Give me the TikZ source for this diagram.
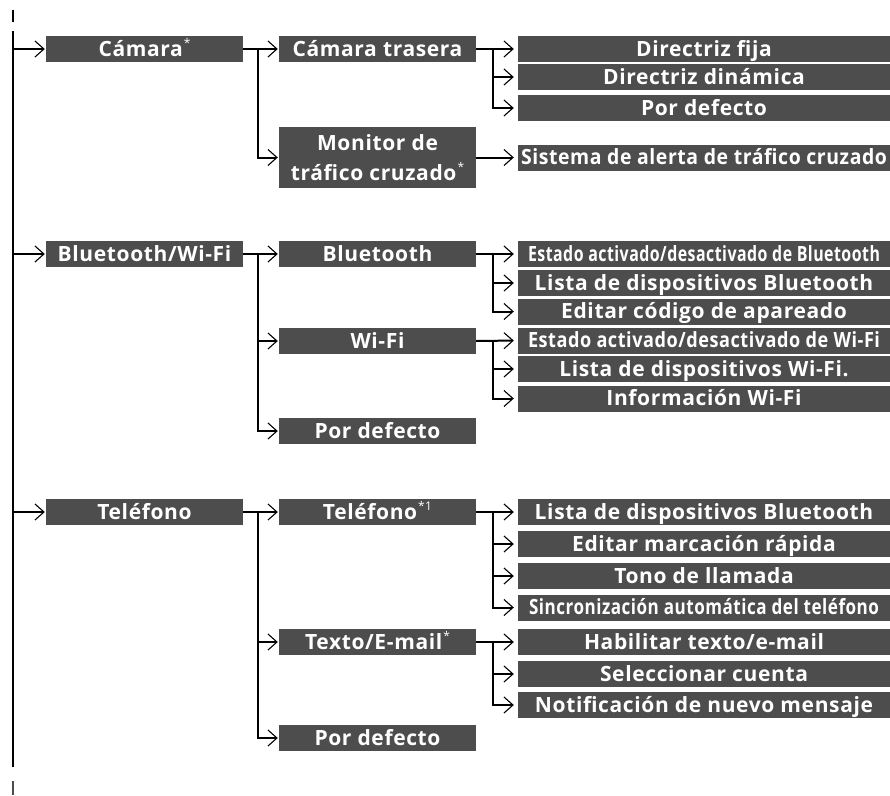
\documentclass[tikz,border=0pt]{standalone}
\usepackage{fontspec}
\setmainfont{Open Sans}[LetterSpace=3]
\usepackage{graphicx}
\usetikzlibrary{arrows.meta}
\definecolor{boxgray}{RGB}{77,77,77}
\newsavebox\fbx
\newcommand\fitw[2]{\sbox\fbx{#2}\ifdim\wd\fbx>#1\relax\resizebox{#1}{\ht\fbx}{\usebox\fbx}\else\usebox\fbx\fi}
\newcommand\supmark[1]{\kern1pt\raisebox{0.4em}{\fontsize{12}{12}\selectfont\mdseries #1}}
\newcommand\st{\supmark{*}}
\begin{document}
\begin{tikzpicture}[x=1pt,y=-1pt,
 box/.style={fill=boxgray, text=white, inner sep=0pt, font=\fontsize{21}{30}\selectfont\bfseries, minimum height=26pt},
 one/.style={text height=14.5pt, text depth=0pt},
 l1/.style={box, one, minimum width=197pt},
 l2/.style={box, minimum width=197pt, align=center},
 l3/.style={box, one, minimum width=372pt},
 ln/.style={line width=2pt},
 arr/.style={ln, -{Straight Barb[length=9pt,width=16pt,line width=1.1pt]}, shorten >=1pt},
 arr3/.style={arr, shorten >=4pt},
]
\useasboundingbox (0,0) rectangle (890,795);
% main line
\coordinate (mtop) at (12.5,31);
\coordinate (mbot) at (12.5,767);
\coordinate (tk1) at (12.5,10);
\coordinate (tk2) at (12.5,22);
\coordinate (tk3) at (12.5,781);
\coordinate (tk4) at (12.5,795);
\coordinate (b2) at (258,0);
\coordinate (b3) at (493,0);
\draw[ln] (mtop) -- (mbot);
\draw[ln] (tk1) -- (tk2);
\draw[ln, black!70] (tk3) -- (tk4);

% level 1
\node[l1] (cam) at (144.5,49) {Cámara\st};
\node[l1] (bw)  at (144.5,254) {Bluetooth/Wi-Fi};
\node[l1] (tel) at (144.5,512) {Teléfono};

% level 2
\node[l2, one] (ct) at (377.5,49) {Cámara trasera};
\node[l2, minimum height=61pt] (mon) at (377.5,157.5) {Monitor de\\tráfico cruzado\st};
\node[l2, one] (bt) at (377.5,254) {Bluetooth};
\node[l2, one] (wf) at (377.5,341) {Wi-Fi};
\node[l2, one] (pd1) at (377.5,431) {Por defecto};
\node[l2, one] (tl2) at (377.5,512) {Teléfono\supmark{*1}};
\node[l2, one] (tx) at (377.5,642) {Texto/E-mail\st};
\node[l2, one] (pd2) at (377.5,738) {Por defecto};

% level 3
\node[l3] (d1) at (704,49) {\fitw{356pt}{Directriz fija}};
\node[l3] (d2) at (704,77) {\fitw{356pt}{Directriz dinámica}};
\node[l3] (d3) at (704,108) {\fitw{356pt}{Por defecto}};
\node[l3] (sis) at (704,157.5) {\fitw{366pt}{Sistema de alerta de tráfico cruzado}};
\node[l3] (e1) at (704,254) {\fitw{352pt}{Estado activado/desactivado de Bluetooth}};
\node[l3] (e2) at (704,283) {\fitw{346pt}{Lista de dispositivos Bluetooth}};
\node[l3] (e3) at (704,311.5) {\fitw{346pt}{Editar código de apareado}};
\node[l3] (w1) at (704,340.5) {\fitw{352pt}{Estado activado/desactivado de Wi-Fi}};
\node[l3] (w2) at (704,369) {\fitw{346pt}{Lista de dispositivos Wi-Fi.}};
\node[l3] (w3) at (704,398.5) {\fitw{346pt}{Información Wi-Fi}};
\node[l3] (t1) at (704,512) {\fitw{346pt}{Lista de dispositivos Bluetooth}};
\node[l3] (t2) at (704,544) {\fitw{346pt}{Editar marcación rápida}};
\node[l3] (t3) at (704,576) {\fitw{346pt}{Tono de llamada}};
\node[l3] (t4) at (704,607.5) {\fitw{350pt}{Sincronización automática del teléfono}};
\node[l3] (h1) at (704,642) {\fitw{346pt}{Habilitar texto/e-mail}};
\node[l3] (h2) at (704,674) {\fitw{346pt}{Seleccionar cuenta}};
\node[l3] (h3) at (704,705) {\fitw{348pt}{Notificación de nuevo mensaje}};

% main -> level1
\draw[arr] (mtop |- cam.west) -- (cam.west);
\draw[arr] (mtop |- bw.west) -- (bw.west);
\draw[arr] (mtop |- tel.west) -- (tel.west);

% level1 -> level2
\draw[arr] (cam.east) -- (ct.west);
\draw[arr] (b2 |- cam.east) |- (mon.west);
\draw[arr] (bw.east) -- (bt.west);
\draw[arr] (b2 |- bw.east) |- (wf.west);
\draw[arr] (b2 |- bw.east) |- (pd1.west);
\draw[arr] (tel.east) -- (tl2.west);
\draw[arr] (b2 |- tel.east) |- (tx.west);
\draw[arr] (b2 |- tel.east) |- (pd2.west);

% level2 -> level3
\draw[arr3] (ct.east) -- (d1.west);
\draw[arr3] (b3 |- ct.east) |- (d2.west);
\draw[arr3] (b3 |- ct.east) |- (d3.west);
\draw[arr3] (mon.east) -- (sis.west);
\draw[arr3] (bt.east) -- (e1.west);
\draw[arr3] (b3 |- bt.east) |- (e2.west);
\draw[arr3] (b3 |- bt.east) |- (e3.west);
\draw[arr3] (wf.east) -- (w1.west);
\draw[arr3] (b3 |- wf.east) |- (w2.west);
\draw[arr3] (b3 |- wf.east) |- (w3.west);
\draw[arr3] (tl2.east) -- (t1.west);
\draw[arr3] (b3 |- tl2.east) |- (t2.west);
\draw[arr3] (b3 |- tl2.east) |- (t3.west);
\draw[arr3] (b3 |- tl2.east) |- (t4.west);
\draw[arr3] (tx.east) -- (h1.west);
\draw[arr3] (b3 |- tx.east) |- (h2.west);
\draw[arr3] (b3 |- tx.east) |- (h3.west);
\end{tikzpicture}
\end{document}
